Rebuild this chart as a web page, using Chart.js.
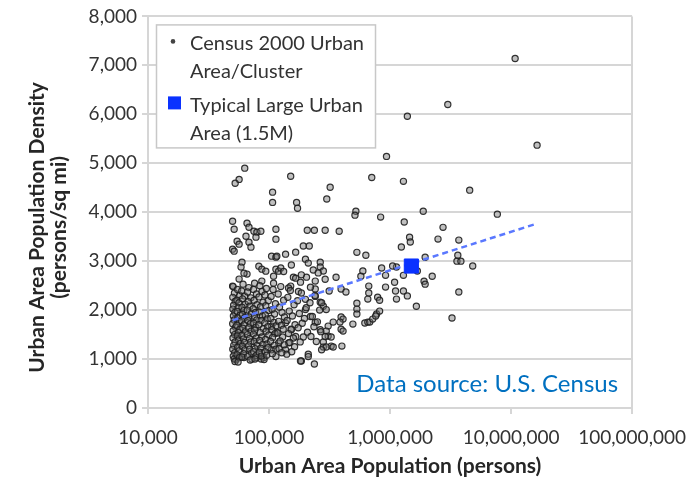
<!DOCTYPE html>
<html>
<head>
<meta charset="utf-8">
<script src="https://cdn.jsdelivr.net/npm/chart.js@4"></script>
<style>
  html, body { margin: 0; padding: 0; background: #fff; }
  #c { display: block; }
</style>
</head>
<body>
<canvas id="c" width="698" height="482"></canvas>
<script>
// urban areas: [population, density (persons/sq mi)]
const urbanAreas = [
  [10800000,7140],[3000000,6200],[1390000,5960],[16400000,5370],[935000,5140],
  [63000,4900],[56600,4670],[52500,4590],[151000,4735],[706000,4710],[1290000,4630],
  [4550000,4450],[320000,4510],[107000,4410],[107000,4200],[300000,4270],[169000,4200],
  [172000,4080],[522000,4020],[513000,3940],[836000,3900],[1880000,4020],[7700000,3960],
  [1310000,3800],[2740000,3690],[2490000,3450],[3700000,3430],[1450000,3490],[1470000,3390],
  [1240000,3290],[3630000,3120],[3570000,3000],[3850000,3000],[4820000,2900],[3700000,2370],
  [3250000,1840],[1950000,3080],[1680000,2800],[2230000,2690],[1910000,2590],[1950000,2530],
  [1650000,2080],[1130000,2880],[1290000,2710],[1090000,2570],[918000,2710],[1110000,2390],
  [1130000,2225],[1290000,2390],[1390000,2290],[918000,2470],[852000,2860],[667000,2490],
  [667000,2350],[655000,2225],[790000,2265],[820000,2200],[596000,2800],[574000,2690],
  [532000,3180],[631000,3120],[380000,3610],[291000,3630],[237000,3630],[207000,3630],
  [192000,3310],[215000,3310],[532000,2140],[532000,2020],[532000,1920],[775000,1920],
  [820000,1980],[619000,1735],[655000,1755],[680000,1755],[719000,1816],[761000,1878],
  [394000,1860],[394000,1610],[400000,1265],[326000,1265],[281000,1245],[211000,1100],
  [237000,900],[185000,960],[409000,1816],[386000,1755],[493000,1714],[339000,1755],
  [308000,1673],[297000,1571],[308000,1469],[326000,1449],[409000,1571],[281000,1347],
  [297000,1245],[339000,1245],[265000,2980],[265000,2880],[281000,2800],[358000,2670],
  [291000,2630],[241000,2430],[314000,2390],[394000,2430],[432000,2370],[265000,2160],
  [281000,2080],[1050000,2900],
  [50000,3816],[51500,3653],[65800,3776],[68300,3694],[75000,3612],[79400,3592],[85600,3612],
  [114000,3653],[64500,3510],[78000,3490],[114000,3449],[54500,3408],[56600,3347],
  [68300,3388],[70900,3286],[50000,3245],[51500,3204],[105000,3102],[114000,3082],
  [116000,3102],[137000,3143],[166000,3184],[200000,3041],[59800,2980],[58700,2878],
  [82400,2898],[87200,2837],[94000,2796],[65800,2735],[114000,2837],[120000,2796],
  [159000,2673],[166000,2653],[204000,2673],[56600,2633],[50000,2490],[87200,2592],
  [109000,2694],[109000,2551],[151000,2490],[182000,2571],[220000,2469],[241000,2592],
  [62100,2755],[125000,2860],[132000,2790],[153000,2920],[185000,2720],[211000,2960],
  [232000,2820],[255000,2760],[145000,2450],[175000,2380],[200000,2220],[241000,2280],
  [272000,2150],[297000,2010],[200000,2010],[220000,1870],[241000,1750],[265000,1600],
  [291000,1460],[137000,1740],[153000,1600],[166000,1460],[145000,1330],[137000,1190],
  [211000,1050],[272000,1190],[105000,1670],[116000,1550],[120000,1330],[105000,1190],
  [114000,1050],[87200,1130],[90600,1030],[79400,1030],[53500,990],[58700,1050],
  [62100,1030],[72000,1000],[86000,1000],[91000,990],[140000,1100],[182000,960],
  // dense core, 50k - 270k
  [50500,2480],[51800,2350],[50200,2260],[52600,2180],[51000,2100],[50300,2020],[52200,1950],
  [50800,1880],[51500,1800],[50100,1720],[52900,1650],[50600,1580],[51900,1500],[50400,1430],
  [52400,1350],[51100,1280],[50200,1200],[52000,1130],[50700,1060],[51600,1000],[52300,950],
  [55000,2420],[57200,2300],[54300,2200],[56400,2150],[55700,2050],[54600,1970],[57800,1900],
  [55300,1840],[56900,1760],[54200,1690],[57400,1610],[55800,1540],[54700,1470],[56300,1390],
  [57900,1320],[55100,1240],[56600,1170],[54400,1090],[57100,1030],[55500,940],
  [61000,2530],[59500,2390],[62800,2290],[60400,2230],[63500,2120],[59800,2060],[61900,1990],
  [60200,1910],[63100,1850],[59300,1780],[62300,1700],[60800,1630],[63800,1560],[59700,1480],
  [61400,1410],[62600,1340],[60100,1260],[63300,1190],[61700,1110],[59900,1040],
  [68000,2460],[66500,2370],[70800,2250],[67300,2170],[69600,2080],[66200,2000],[71500,1930],
  [68400,1860],[66900,1790],[70200,1720],[67800,1640],[71100,1570],[66400,1500],[69100,1420],
  [70600,1350],[67500,1270],[68900,1200],[71800,1120],[66700,1050],[69900,980],
  [76000,2550],[74500,2420],[78800,2330],[75300,2200],[79600,2110],[74100,2030],[77400,1950],
  [75800,1870],[79100,1800],[74800,1730],[77900,1650],[76300,1590],[74300,1510],[78400,1430],
  [75500,1360],[79800,1280],[76800,1210],[74600,1150],[78100,1070],[76500,1000],
  [84000,2500],[87500,2380],[82600,2270],[89300,2160],[85100,2070],[83200,1960],[88200,1880],
  [86000,1790],[82300,1700],[89800,1620],[84600,1540],[87100,1450],[83700,1380],[88800,1300],
  [85600,1220],[82900,1140],[86700,1060],
  [95000,2440],[92500,2310],[98500,2190],[94000,2090],[99200,1990],[93100,1900],[96800,1820],
  [92200,1740],[97600,1660],[94700,1570],[99700,1490],[93600,1400],[96200,1310],[98100,1230],
  [92800,1150],[95600,1080],
  [108000,2420],[104000,2280],[113000,2130],[106000,2010],[111000,1920],[103500,1830],
  [109500,1750],[114500,1680],[105500,1600],[112000,1520],[107000,1440],[103000,1360],
  [110500,1280],[114000,1200],[106500,1110],
  [125000,2480],[119000,2330],[132000,2200],[122000,2060],[128000,1950],[134000,1860],
  [120000,1770],[126500,1690],[131000,1610],[118500,1530],[129500,1450],[123500,1370],
  [133500,1290],[121000,1210],[127500,1130],
  [150000,2400],[143000,2260],[161000,2110],[147000,1980],[156000,1880],[141000,1790],
  [164000,1700],[152000,1610],[145000,1520],[159000,1430],[148500,1340],[162500,1250],[154000,1150],
  [185000,2350],[172000,2190],[203000,2050],[178000,1930],[196000,1830],[188000,1730],
  [174000,1640],[208000,1550],[192000,1450],[181000,1350],
  [240000,2300],[218000,2150],[262000,2000],[228000,1870],[251000,1760],[235000,1660],
  [268000,1560],[222000,1460],[246000,1360]
];

const typicalArea = [1500000, 2900];
const trendPop = [50000, 16000000];
const trendDensity = [1790, 3760];
const xTicks = [10000, 100000, 1000000, 10000000, 100000000];
const yTitle = ['Urban Area Population Density', '(persons/sq mi)'];
const xTitle = 'Urban Area Population (persons)';
const sourceNote = 'Data source: U.S. Census';

const gridGrey = '#d6d6d6';

const overlay = {
  id: 'overlay',
  afterDraw(chart) {
    const ctx = chart.ctx;
    const a = chart.chartArea;
    ctx.save();

    // y axis title (two lines)
    ctx.save();
    ctx.translate(37, a.top + 211);
    ctx.rotate(-Math.PI / 2);
    ctx.font = 'bold 21px Lato';
    ctx.fillStyle = '#262626';
    ctx.textAlign = 'center';
    ctx.textBaseline = 'middle';
    ctx.fillText(yTitle[0], 0, 0);
    ctx.fillText(yTitle[1], 0, 22);
    ctx.restore();

    // legend box
    const lx = a.left + 8.5, ly = a.top + 8.5;
    ctx.fillStyle = '#fff';
    ctx.fillRect(lx, ly, 219, 123);
    ctx.strokeStyle = '#c8c8c8';
    ctx.lineWidth = 1.5;
    ctx.strokeRect(lx, ly, 219, 123);

    const ds = chart.data.datasets;
    ctx.font = '20px Lato';
    ctx.textAlign = 'left';
    ctx.textBaseline = 'middle';
    // dot entry
    ctx.beginPath();
    ctx.arc(a.left + 25, a.top + 25, 2.3, 0, Math.PI * 2);
    ctx.fillStyle = '#444';
    ctx.fill();
    ctx.fillStyle = '#333';
    ctx.fillText(ds[0].label[0], a.left + 42, a.top + 27);
    ctx.fillText(ds[0].label[1], a.left + 42, a.top + 55);
    // square entry
    ctx.fillStyle = ds[2].backgroundColor;
    ctx.fillRect(a.left + 20, a.top + 80, 13, 13);
    ctx.fillStyle = '#333';
    ctx.fillText(ds[2].label[0], a.left + 42, a.top + 89);
    ctx.fillText(ds[2].label[1], a.left + 42, a.top + 117);

    // source note
    ctx.font = '24px Lato';
    ctx.fillStyle = '#0070c0';
    ctx.textAlign = 'right';
    ctx.fillText(sourceNote, a.right - 14, a.bottom - 24);
    ctx.restore();
  }
};

new Chart(document.getElementById('c'), {
  type: 'scatter',
  data: {
    datasets: [
      {
        label: ['Census 2000 Urban', 'Area/Cluster'],
        data: urbanAreas.map(p => ({ x: p[0], y: p[1] })),
        backgroundColor: 'rgba(115,115,115,0.45)',
        borderColor: 'rgba(30,30,30,0.9)',
        borderWidth: 1.2,
        pointRadius: 3.1,
        order: 3
      },
      {
        label: 'trend',
        type: 'line',
        data: trendPop.map((x, i) => ({ x: x, y: trendDensity[i] })),
        borderColor: '#5a78ff',
        borderWidth: 2.5,
        borderDash: [6, 4],
        pointRadius: 0,
        fill: false,
        order: 2
      },
      {
        label: ['Typical Large Urban', 'Area (1.5M)'],
        data: [{ x: typicalArea[0], y: typicalArea[1] }],
        backgroundColor: '#0a32ff',
        borderColor: '#0a32ff',
        pointStyle: 'rect',
        pointRadius: 10,
        order: 1
      }
    ]
  },
  options: {
    responsive: false,
    animation: false,
    layout: { padding: { left: 0, top: 15, right: 62, bottom: 0 } },
    plugins: { legend: { display: false }, tooltip: { enabled: false } },
    scales: {
      x: {
        type: 'logarithmic',
        min: 10000,
        max: 100000000,
        afterBuildTicks: s => { s.ticks = xTicks.map(v => ({ value: v })); },
        afterFit: s => { s.height = 74; },
        ticks: {
          color: '#333',
          font: { family: 'Lato', size: 19 },
          padding: 12,
          maxRotation: 0,
          autoSkip: false,
          callback: v => Number(v).toLocaleString('en-US')
        },
        grid: {
          color: c => (c.tick && c.tick.value === 100000000) ? gridGrey : 'rgba(0,0,0,0)',
          tickColor: gridGrey,
          lineWidth: 2,
          tickLength: 6
        },
        border: { color: gridGrey, width: 2 },
        title: {
          display: true,
          text: xTitle,
          color: '#262626',
          font: { family: 'Lato', size: 21, weight: 'bold' },
          padding: { top: 0, bottom: 3 }
        }
      },
      y: {
        min: 0,
        max: 8000,
        afterFit: s => { s.width = 148; },
        ticks: {
          stepSize: 1000,
          color: '#333',
          font: { family: 'Lato', size: 19 },
          padding: 5
        },
        grid: { color: gridGrey, lineWidth: 2, tickLength: 6 },
        border: { color: gridGrey, width: 2 }
      }
    }
  },
  plugins: [overlay]
});
</script>
</body>
</html>
